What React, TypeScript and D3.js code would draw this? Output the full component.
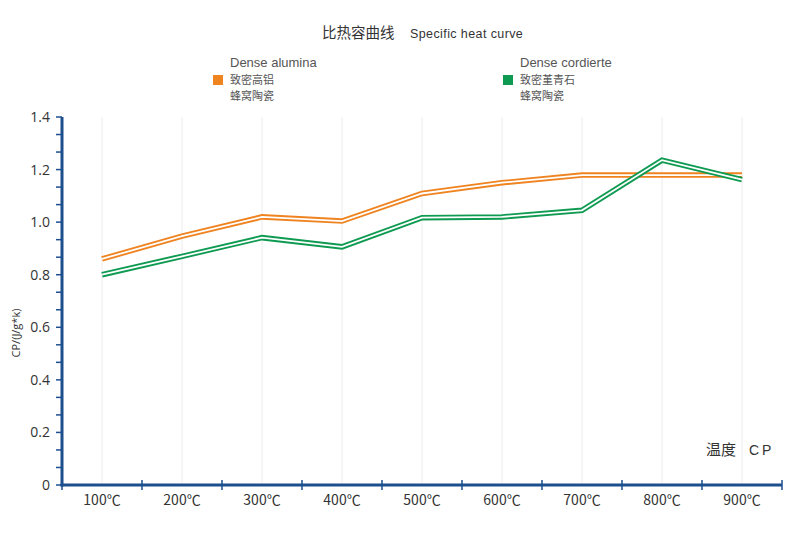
import { useEffect, useRef } from 'react';
import * as d3 from 'd3';

const temps = ['100℃', '200℃', '300℃', '400℃', '500℃', '600℃', '700℃', '800℃', '900℃'];
const alumina = [0.86, 0.947, 1.02, 1.004, 1.109, 1.15, 1.179, 1.179, 1.179];
const cordierite = [0.8, 0.87, 0.941, 0.906, 1.017, 1.02, 1.045, 1.236, 1.162];
const yTicks = [0, 0.2, 0.4, 0.6, 0.8, 1.0, 1.2, 1.4];

const AXIS = '#1d4f8e';
const ORANGE = '#ef8320';
const GREEN = '#0f9a52';
const CJK = '"Noto Sans CJK SC", "Noto Sans", sans-serif';
const LATIN = '"Open Sans", "Noto Sans", sans-serif';
const ARIAL = '"Liberation Sans", Arial, sans-serif';

export default function App() {
  const svgRef = useRef<SVGSVGElement>(null);

  useEffect(() => {
    if (!svgRef.current) return;
    const svg = d3.select(svgRef.current);
    svg.selectAll('*').remove();

    const left = 62;
    const right = 782;
    const top = 117;
    const bottom = 485;

    const x = d3.scaleBand().domain(temps).range([left, right]);
    const y = d3.scaleLinear().domain([0, 1.4]).range([bottom, top]);
    const cx = (d: string) => (x(d) as number) + x.bandwidth() / 2;

    // vertical grid
    svg.append('g')
      .selectAll('line')
      .data(temps)
      .join('line')
      .attr('x1', (d) => cx(d))
      .attr('x2', (d) => cx(d))
      .attr('y1', top)
      .attr('y2', bottom)
      .attr('stroke', '#ececec')
      .attr('stroke-width', 1);

    // y axis minor ticks (3 per 0.2)
    const minor = d3.range(0, 1.4001, 0.2 / 3);
    svg.append('g')
      .selectAll('line')
      .data(minor)
      .join('line')
      .attr('x1', left - 6)
      .attr('x2', left)
      .attr('y1', (d) => y(d))
      .attr('y2', (d) => y(d))
      .attr('stroke', AXIS)
      .attr('stroke-width', 1.5);

    svg.append('g')
      .selectAll('text')
      .data(yTicks)
      .join('text')
      .attr('x', 50)
      .attr('y', (d) => y(d) + 5)
      .attr('text-anchor', 'end')
      .attr('font-family', LATIN)
      .attr('font-size', 14)
      .attr('fill', '#333')
      .text((d) => (d === 0 ? '0' : d3.format('.1f')(d)));

    // x axis ticks at band boundaries
    const bounds = temps.map((d) => x(d) as number).concat([right]);
    svg.append('g')
      .selectAll('line')
      .data(bounds)
      .join('line')
      .attr('x1', (d) => d)
      .attr('x2', (d) => d)
      .attr('y1', bottom - 5)
      .attr('y2', bottom + 5)
      .attr('stroke', AXIS)
      .attr('stroke-width', 1.5);

    svg.append('g')
      .selectAll('text')
      .data(temps)
      .join('text')
      .attr('x', (d) => cx(d))
      .attr('y', bottom + 20)
      .attr('text-anchor', 'middle')
      .attr('font-family', CJK)
      .attr('font-size', 14)
      .attr('fill', '#333')
      .text((d) => d);

    // axis lines
    svg.append('line')
      .attr('x1', left).attr('x2', left)
      .attr('y1', top).attr('y2', bottom + 1.5)
      .attr('stroke', AXIS).attr('stroke-width', 3);
    svg.append('line')
      .attr('x1', left - 1.5).attr('x2', right)
      .attr('y1', bottom).attr('y2', bottom)
      .attr('stroke', AXIS).attr('stroke-width', 3);

    // double lines
    const line = d3.line<number>()
      .x((_, i) => cx(temps[i]))
      .y((d) => y(d));
    [[alumina, ORANGE], [cordierite, GREEN]].forEach(([vals, color]) => {
      svg.append('path')
        .attr('d', line(vals as number[]))
        .attr('fill', 'none')
        .attr('stroke', color as string)
        .attr('stroke-width', 5.5);
      svg.append('path')
        .attr('d', line(vals as number[]))
        .attr('fill', 'none')
        .attr('stroke', '#fff')
        .attr('stroke-width', 1.8);
    });

    // y label
    svg.append('text')
      .attr('transform', 'translate(20,333) rotate(-90)')
      .attr('text-anchor', 'middle')
      .attr('font-family', LATIN)
      .attr('font-size', 11)
      .attr('fill', '#333')
      .text('CP/(J/g*k)');

    // axis caption
    svg.append('text')
      .attr('x', 706).attr('y', 455)
      .attr('font-family', CJK).attr('font-size', 15).attr('fill', '#333')
      .text('温度');
    svg.append('text')
      .attr('x', 749).attr('y', 455)
      .attr('font-family', ARIAL).attr('font-size', 14).attr('fill', '#333')
      .attr('letter-spacing', 3)
      .text('CP');

    // title
    svg.append('text')
      .attr('x', 322).attr('y', 38)
      .attr('font-family', CJK).attr('font-size', 14.5).attr('fill', '#333')
      .text('比热容曲线');
    svg.append('text')
      .attr('x', 410).attr('y', 38)
      .attr('font-family', ARIAL).attr('font-size', 12.5).attr('fill', '#333')
      .attr('letter-spacing', 0.4)
      .text('Specific heat curve');

    // legend
    const legend = [
      { x: 213, name: 'Dense alumina', zh1: '致密高铝', zh2: '蜂窝陶瓷', color: ORANGE },
      { x: 503, name: 'Dense cordierte', zh1: '致密堇青石', zh2: '蜂窝陶瓷', color: GREEN },
    ];
    legend.forEach((l) => {
      svg.append('text')
        .attr('x', l.x + 17).attr('y', 67)
        .attr('font-family', ARIAL).attr('font-size', 13).attr('fill', '#555')
        .text(l.name);
      svg.append('rect')
        .attr('x', l.x).attr('y', 75).attr('width', 10).attr('height', 10)
        .attr('fill', l.color);
      svg.append('text')
        .attr('x', l.x + 17).attr('y', 84)
        .attr('font-family', CJK).attr('font-size', 11).attr('fill', '#555')
        .text(l.zh1);
      svg.append('text')
        .attr('x', l.x + 17).attr('y', 100)
        .attr('font-family', CJK).attr('font-size', 11).attr('fill', '#555')
        .text(l.zh2);
    });
  }, []);

  return (
    <svg
      ref={svgRef}
      width={800}
      height={538}
      style={{ position: 'absolute', left: 0, top: 0, background: '#fff' }}
    />
  );
}
